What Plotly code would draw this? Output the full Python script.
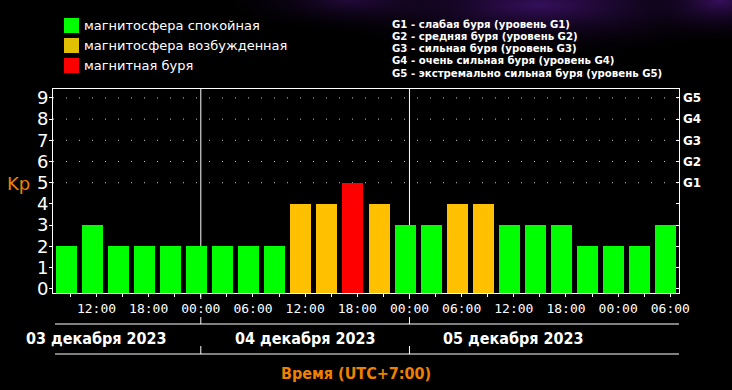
import base64
import pandas as pd
import plotly.graph_objects as go

# ---------------- data ----------------
KP = [2, 3, 2, 2, 2, 2, 2, 2, 2, 4, 4, 5, 4, 3, 3, 4, 4, 3, 3, 3, 2, 2, 2, 3]
SLOT_START = "2023-12-03 07:00"      # first 3-hour interval start (local, UTC+7)
SLOT_HOURS = 3
X_RANGE = ["2023-12-03 07:00", "2023-12-06 07:00"]
Y_RANGE = [-0.2, 9.42]
KP_TICKS = list(range(10))
G_LEVELS = [5, 6, 7, 8, 9]
G_LABELS = ["G1", "G2", "G3", "G4", "G5"]
GRID_LEVELS = [5, 6, 7, 8, 9]
DAY_BOUNDARIES = ["2023-12-04 00:00", "2023-12-05 00:00"]
DAY_CENTERS = ["2023-12-03 12:00", "2023-12-04 12:00", "2023-12-05 12:00"]
DAY_LABELS = ["03 декабря 2023", "04 декабря 2023", "05 декабря 2023"]
TICK_START, TICK_END = "2023-12-03 09:00", "2023-12-06 06:00"
LEGEND_LABELS = ["магнитосфера спокойная", "магнитосфера возбужденная", "магнитная буря"]
LEGEND_COLORS = ["#00ff00", "#e0c000", "#ff0000"]
G_TEXT = [
    "G1 - слабая буря (уровень G1)",
    "G2 - средняя буря (уровень G2)",
    "G3 - сильная буря (уровень G3)",
    "G4 - очень сильная буря (уровень G4)",
    "G5 - экстремально сильная буря (уровень G5)",
]
COLOR_QUIET, COLOR_ACTIVE, COLOR_STORM = "#00ff00", "#ffc000", "#ff0000"
ORANGE = "#f08000"

# ---------------- geometry helpers ----------------
W, H = 732, 390
ML, MR, MT, MB = 53, 53, 89, 97
PW, PH = W - ML - MR, H - MT - MB


def xp(px):
    return (px - ML) / PW


def yp(py):
    return (H - MB - py) / PH


slot = pd.Timedelta(hours=SLOT_HOURS)
centers = [pd.Timestamp(SLOT_START) + slot / 2 + slot * i for i in range(len(KP))]
colors = [COLOR_QUIET if k < 4 else (COLOR_ACTIVE if k == 4 else COLOR_STORM) for k in KP]
bar_width_ms = slot.total_seconds() * 1000 * 21 / 26

tick_times = pd.date_range(TICK_START, TICK_END, freq="3h")
tick_text = [t.strftime("%H:%M") if t.hour % 6 == 0 else "" for t in tick_times]

fig = go.Figure()
fig.add_trace(go.Bar(
    x=centers, y=[k - Y_RANGE[0] for k in KP], base=Y_RANGE[0],
    width=bar_width_ms, marker=dict(color=colors, line=dict(width=0)),
    hoverinfo="skip", showlegend=False,
))
fig.add_trace(go.Scatter(
    x=centers, y=KP, yaxis="y2", mode="markers",
    marker=dict(opacity=0), hoverinfo="skip", showlegend=False,
))

shapes = []
for lvl in GRID_LEVELS:
    shapes.append(dict(type="line", xref="paper", yref="y", x0=0, x1=1, y0=lvl, y1=lvl,
                       line=dict(color="#c8c8c8", width=1, dash="1px,12px"), layer="below"))
for d in DAY_BOUNDARIES:
    shapes.append(dict(type="line", xref="x", yref="paper", x0=d, x1=d, y0=yp(299), y1=1,
                       line=dict(color="white", width=1), layer="below"))
    shapes.append(dict(type="line", xref="x", yref="paper", x0=d, x1=d, y0=yp(317), y1=yp(324),
                       line=dict(color="white", width=1)))
    shapes.append(dict(type="line", xref="x", yref="paper", x0=d, x1=d, y0=yp(346), y1=yp(354),
                       line=dict(color="white", width=1)))
for py in (324, 354):
    shapes.append(dict(type="line", xref="paper", yref="paper", x0=xp(55), x1=1, y0=yp(py), y1=yp(py),
                       line=dict(color="white", width=1)))

annotations = []
for i, (lab, col) in enumerate(zip(LEGEND_LABELS, LEGEND_COLORS)):
    top = 18 + 20 * i
    shapes.append(dict(type="rect", xref="paper", yref="paper", x0=xp(64), x1=xp(79),
                       y0=yp(top + 15), y1=yp(top), fillcolor=col, line=dict(width=0)))
    annotations.append(dict(text=lab, xref="paper", yref="paper", x=xp(82), y=yp(top + 7.5),
                            xanchor="left", yanchor="middle", showarrow=False,
                            font=dict(family="DejaVu Sans", size=13, color="white")))
for i, t in enumerate(G_TEXT):
    annotations.append(dict(text=t, xref="paper", yref="paper", x=xp(390), y=yp(24 + 12.3 * i),
                            xanchor="left", yanchor="middle", showarrow=False,
                            font=dict(family="DejaVu Sans Condensed", size=11.3, color="white", weight="bold")))
for c, lab in zip(DAY_CENTERS, DAY_LABELS):
    annotations.append(dict(text=lab, xref="x", yref="paper", x=c, y=yp(338),
                            xanchor="center", yanchor="middle", showarrow=False,
                            font=dict(family="DejaVu Sans Condensed", size=16, color="white", weight="bold")))
annotations.append(dict(text="Время (UTC+7:00)", xref="paper", yref="paper", x=xp(356), y=yp(373),
                        xanchor="center", yanchor="middle", showarrow=False,
                        font=dict(family="DejaVu Sans Condensed", size=16, color=ORANGE, weight="bold")))
annotations.append(dict(text="Kp", xref="paper", yref="paper", x=xp(18), y=yp(183),
                        xanchor="center", yanchor="middle", showarrow=False,
                        font=dict(family="DejaVu Sans", size=18, color=ORANGE)))

svg = (
    "<svg xmlns='http://www.w3.org/2000/svg' width='732' height='390'>"
    "<defs><radialGradient id='g' cx='0.5' cy='0.5' r='0.5'>"
    "<stop offset='0' stop-color='#3c1066' stop-opacity='0.9'/>"
    "<stop offset='1' stop-color='#000000' stop-opacity='0'/></radialGradient></defs>"
    "<rect width='732' height='390' fill='#000'/>"
    "<ellipse cx='540' cy='5' rx='260' ry='55' fill='url(#g)'/>"
    "<ellipse cx='720' cy='0' rx='90' ry='45' fill='url(#g)'/>"
    "<ellipse cx='350' cy='0' rx='140' ry='35' fill='url(#g)' opacity='0.6'/>"
    "</svg>"
)
bg = "data:image/svg+xml;base64," + base64.b64encode(svg.encode()).decode()

fig.update_layout(
    width=W, height=H, margin=dict(l=ML, r=MR, t=MT, b=MB, pad=0),
    paper_bgcolor="black", plot_bgcolor="black",
    shapes=shapes, annotations=annotations, bargap=0,
    images=[dict(source=bg, xref="paper", yref="paper", x=xp(0), y=yp(0),
                 sizex=W / PW, sizey=H / PH, xanchor="left", yanchor="top",
                 sizing="stretch", layer="below")],
    xaxis=dict(type="date", range=X_RANGE, tickvals=tick_times, ticktext=tick_text,
               ticks="outside", ticklen=3, tickcolor="white", showgrid=False, zeroline=False,
               showline=True, linecolor="white", linewidth=1, mirror=True,
               tickfont=dict(family="DejaVu Sans Mono", size=13, color="white")),
    yaxis=dict(range=Y_RANGE, tickvals=KP_TICKS, ticks="outside", ticklen=3, tickcolor="white",
               showgrid=False, zeroline=False, showline=True, linecolor="white", linewidth=1,
               mirror=True, ticklabelstandoff=-3,
               tickfont=dict(family="DejaVu Sans", size=18, color="white")),
    yaxis2=dict(range=Y_RANGE, overlaying="y", side="right", tickvals=KP_TICKS,
                ticktext=["" if k not in G_LEVELS else G_LABELS[G_LEVELS.index(k)] for k in KP_TICKS],
                ticks="inside", ticklen=3, tickcolor="white", showgrid=False, zeroline=False,
                showline=False, ticklabelstandoff=3,
                tickfont=dict(family="DejaVu Sans", size=12, color="white", weight="bold")),
)

fig.write_html("out.html", config={"displayModeBar": False},
               post_script="document.body.style.margin='0';")
